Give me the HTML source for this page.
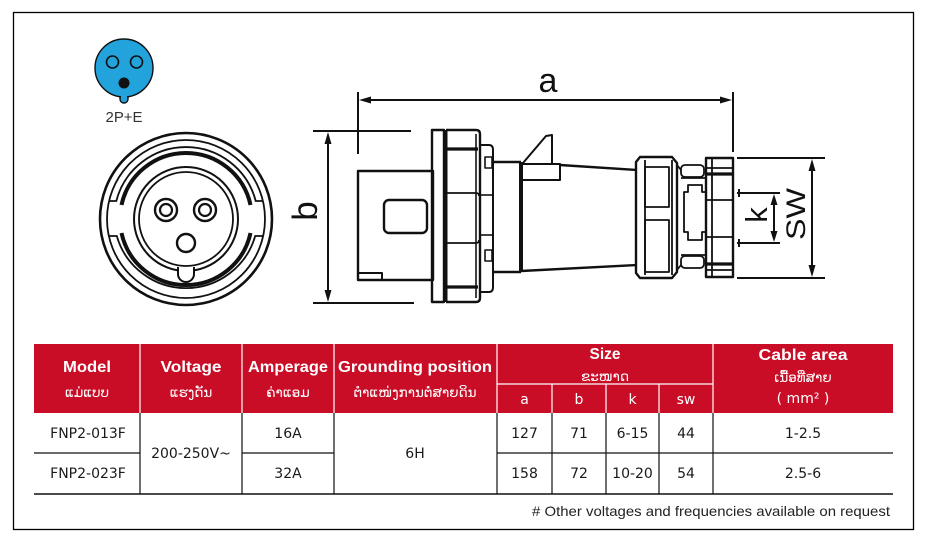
<!DOCTYPE html>
<html>
<head>
<meta charset="utf-8">
<style>
  html,body{margin:0;padding:0;background:#fff;}
  body{width:928px;height:546px;overflow:hidden;position:relative;}
  svg{position:absolute;left:0;top:0;}
  .hb{font-family:"Liberation Sans",Arial,sans-serif;font-weight:bold;font-size:15.5px;fill:#fff;}
  .lao{font-family:"DejaVu Sans","Liberation Sans",sans-serif;font-size:13.5px;fill:#fff;}
  .sub{font-family:"DejaVu Sans","Liberation Sans",sans-serif;font-size:14px;fill:#fff;}
  .td{font-family:"DejaVu Sans","Liberation Sans",sans-serif;font-size:14px;fill:#1a1a1a;}
  .dim{font-family:"Liberation Sans",Arial,sans-serif;fill:#111;}
</style>
</head>
<body>
<svg width="928" height="546" viewBox="0 0 928 546" xmlns="http://www.w3.org/2000/svg">
  <!-- frame -->
  <rect x="13.5" y="12.5" width="900" height="517" fill="#fff" stroke="#000" stroke-width="1.3"/>

  <!-- blue pin icon -->
  <rect x="120" y="90" width="8" height="13" rx="4" fill="#22a3dc" stroke="#111" stroke-width="1.4"/>
  <circle cx="124" cy="68" r="29" fill="#22a3dc" stroke="#111" stroke-width="1.4"/>
  <rect x="121" y="92" width="6" height="8" fill="#22a3dc"/>
  <circle cx="112.5" cy="62" r="6" fill="#22a3dc" stroke="#111" stroke-width="1.6"/>
  <circle cx="136.5" cy="62" r="6" fill="#22a3dc" stroke="#111" stroke-width="1.6"/>
  <circle cx="124" cy="83" r="5.5" fill="#111"/>
  <text x="124" y="122" text-anchor="middle" font-family="Liberation Sans, Arial, sans-serif" font-size="15" fill="#333" textLength="37" lengthAdjust="spacingAndGlyphs">2P+E</text>

  <!-- front view -->
  <g fill="none" stroke="#111">
    <circle cx="186" cy="219" r="86" stroke-width="2.6"/>
    <circle cx="186" cy="219" r="79" stroke-width="1.8"/>
    <path d="M109,201 L116.3,201 A72,72 0 0 1 255.7,201 L263,201" stroke-width="1.8"/>
    <path d="M109,236 L116.8,236 A72,72 0 0 0 255.2,236 L263,236" stroke-width="1.8"/>
    <path d="M121.5,205 A66,66 0 0 1 250.5,205" stroke-width="4"/>
    <path d="M121.5,233 A66,66 0 0 0 250.5,233" stroke-width="4"/>
    <circle cx="186" cy="219" r="52" stroke-width="2"/>
    <circle cx="186" cy="219" r="47" stroke-width="1.8"/>
    <circle cx="166" cy="210" r="11" stroke-width="2.4"/>
    <circle cx="166" cy="210" r="6" stroke-width="2.2"/>
    <circle cx="205" cy="210" r="11" stroke-width="2.4"/>
    <circle cx="205" cy="210" r="6" stroke-width="2.2"/>
    <circle cx="186" cy="243" r="9" stroke-width="2.4"/>
  </g>
  <path d="M178,267 L178,274 A8,8 0 0 0 194,274 L194,267" fill="#fff" stroke="#111" stroke-width="2"/>

  <!-- ===== side view ===== -->
  <g stroke="#111" fill="none" stroke-width="2">
    <line x1="358" y1="92" x2="358" y2="154"/>
    <line x1="733" y1="92" x2="733" y2="152"/>
    <line x1="366" y1="100" x2="725" y2="100"/>
    <line x1="313" y1="131" x2="411" y2="131"/>
    <line x1="313" y1="303" x2="414" y2="303"/>
    <line x1="328" y1="139" x2="328" y2="295"/>
    <line x1="737" y1="158" x2="825" y2="158"/>
    <line x1="737" y1="278" x2="825" y2="278"/>
    <line x1="812" y1="166" x2="812" y2="270"/>
    <line x1="737" y1="193" x2="780" y2="193"/>
    <line x1="737" y1="243" x2="780" y2="243"/>
    <line x1="774" y1="200" x2="774" y2="236"/>
    <line x1="739" y1="189" x2="739" y2="197"/>
    <line x1="739" y1="239" x2="739" y2="247"/>
  </g>
  <g fill="#111">
    <polygon points="359,100 371,96.5 371,103.5"/>
    <polygon points="732,100 720,96.5 720,103.5"/>
    <polygon points="328,132 324.5,144 331.5,144"/>
    <polygon points="328,302 324.5,290 331.5,290"/>
    <polygon points="812,159 808.5,171 815.5,171"/>
    <polygon points="812,277 808.5,265 815.5,265"/>
    <polygon points="774,194 770.5,205 777.5,205"/>
    <polygon points="774,242 770.5,231 777.5,231"/>
  </g>
  <text class="dim" x="548" y="92" text-anchor="middle" font-size="34">a</text>
  <text class="dim" font-size="35" text-anchor="middle" transform="translate(317,211) rotate(-90)">b</text>
  <text class="dim" font-size="31" text-anchor="middle" transform="translate(767,215) rotate(-90)">k</text>
  <text class="dim" font-size="27" text-anchor="middle" textLength="52" lengthAdjust="spacingAndGlyphs" transform="translate(805,214) rotate(-90)">SW</text>

  <g stroke="#111" fill="none" stroke-width="2.4" stroke-linejoin="round">
    <rect x="358" y="171" width="75" height="109"/>
    <rect x="358" y="273" width="24" height="7" stroke-width="2"/>
    <rect x="384" y="200" width="43" height="33" rx="5"/>
    <rect x="432" y="130" width="12" height="172"/>
    <line x1="446" y1="130" x2="446" y2="302" stroke-width="3"/>
    <path d="M446,130 L476,130 Q480,130 480,134 L480,298 Q480,302 476,302 L446,302"/>
    <line x1="446" y1="149" x2="478" y2="149" stroke-width="3.2"/>
    <line x1="446" y1="287" x2="478" y2="287" stroke-width="3.2"/>
    <path d="M446,193 L476,193 Q479,193 479,196" stroke-width="1.8"/>
    <path d="M446,243 L476,243 Q479,243 479,240" stroke-width="1.8"/>
    <line x1="476" y1="134" x2="476" y2="298" stroke-width="1.6"/>
    <path d="M480,145 L489,145 Q493,145 493,150 L493,287 Q493,292 489,292 L480,292" stroke-width="2"/>
    <rect x="485" y="157" width="7" height="11" stroke-width="1.6"/>
    <rect x="485" y="250" width="7" height="11" stroke-width="1.6"/>
    <line x1="480" y1="195" x2="493" y2="195" stroke-width="1.6"/>
    <line x1="480" y1="235" x2="493" y2="235" stroke-width="1.6"/>
    <line x1="493" y1="162" x2="521" y2="162"/>
    <line x1="493" y1="272" x2="521" y2="272"/>
    <line x1="521" y1="162" x2="521" y2="272" stroke-width="4"/>
    <line x1="560" y1="165" x2="637" y2="170"/>
    <line x1="521" y1="271" x2="637" y2="265"/>
    <path d="M523,163 Q534,150 546,136 L552,135 L552,164" stroke-width="2"/>
    <path d="M523,164 L560,164 L560,180 L523,180" stroke-width="2"/>
    <polygon points="640,157 672,157 677,163 677,272 672,278 640,278 636,273 636,162"/>
    <line x1="645" y1="160" x2="645" y2="275" stroke-width="1.8"/>
    <line x1="672" y1="160" x2="672" y2="275" stroke-width="1.8"/>
    <rect x="645" y="167" width="24" height="40" stroke-width="1.8"/>
    <rect x="645" y="220" width="24" height="52" stroke-width="1.8"/>
    <line x1="677" y1="165" x2="681" y2="170" stroke-width="1.8"/>
    <line x1="677" y1="270" x2="681" y2="265" stroke-width="1.8"/>
    <rect x="681" y="165" width="23" height="12" rx="4" stroke-width="1.8"/>
    <rect x="681" y="256" width="23" height="12" rx="4" stroke-width="1.8"/>
    <line x1="681" y1="178" x2="706" y2="178" stroke-width="1.8"/>
    <line x1="681" y1="255" x2="706" y2="255" stroke-width="1.8"/>
    <path d="M688,185 L702,185 L702,192 L706,192 L706,232 L702,232 L702,240 L688,240 L688,232 L684,232 L684,192 L688,192 Z" stroke-width="1.8"/>
    <line x1="677" y1="203" x2="677" y2="208" stroke-width="2"/>
    <line x1="677" y1="214" x2="677" y2="220" stroke-width="2"/>
    <rect x="706" y="158" width="27" height="119"/>
    <line x1="712" y1="158" x2="712" y2="277" stroke-width="1.8"/>
    <line x1="706" y1="168" x2="733" y2="168" stroke-width="1.8"/>
    <line x1="706" y1="174" x2="733" y2="174" stroke-width="3.2"/>
    <line x1="706" y1="200" x2="733" y2="200" stroke-width="1.8"/>
    <line x1="706" y1="237" x2="733" y2="237" stroke-width="1.8"/>
    <line x1="706" y1="264" x2="733" y2="264" stroke-width="3.2"/>
    <line x1="706" y1="270" x2="733" y2="270" stroke-width="1.8"/>
  </g>

  <!-- ===== table ===== -->
  <rect x="34" y="344" width="859" height="69" fill="#c90d27"/>
  <g stroke="#fff" stroke-width="1.2">
    <line x1="140" y1="344" x2="140" y2="413"/>
    <line x1="242" y1="344" x2="242" y2="413"/>
    <line x1="334" y1="344" x2="334" y2="413"/>
    <line x1="497" y1="344" x2="497" y2="413"/>
    <line x1="713" y1="344" x2="713" y2="413"/>
    <line x1="497" y1="384" x2="713" y2="384"/>
    <line x1="552" y1="384" x2="552" y2="413"/>
    <line x1="606" y1="384" x2="606" y2="413"/>
    <line x1="659" y1="384" x2="659" y2="413"/>
  </g>
  <g stroke="#111" stroke-width="1.2">
    <line x1="140" y1="413" x2="140" y2="494"/>
    <line x1="242" y1="413" x2="242" y2="494"/>
    <line x1="334" y1="413" x2="334" y2="494"/>
    <line x1="497" y1="413" x2="497" y2="494"/>
    <line x1="552" y1="413" x2="552" y2="494"/>
    <line x1="606" y1="413" x2="606" y2="494"/>
    <line x1="659" y1="413" x2="659" y2="494"/>
    <line x1="713" y1="413" x2="713" y2="494"/>
    <line x1="34" y1="453" x2="140" y2="453"/>
    <line x1="242" y1="453" x2="334" y2="453"/>
    <line x1="497" y1="453" x2="893" y2="453"/>
    <line x1="34" y1="494" x2="893" y2="494" stroke-width="1.4"/>
  </g>

  <text class="hb" x="87" y="372" text-anchor="middle" textLength="48" lengthAdjust="spacingAndGlyphs">Model</text>
  <text class="hb" x="191" y="372" text-anchor="middle" textLength="61" lengthAdjust="spacingAndGlyphs">Voltage</text>
  <text class="hb" x="288" y="372" text-anchor="middle" textLength="80" lengthAdjust="spacingAndGlyphs">Amperage</text>
  <text class="hb" x="415" y="372" text-anchor="middle" textLength="154" lengthAdjust="spacingAndGlyphs">Grounding position</text>
  <text class="hb" x="605" y="359" text-anchor="middle" textLength="31" lengthAdjust="spacingAndGlyphs">Size</text>
  <text class="hb" x="803" y="360" text-anchor="middle" textLength="89" lengthAdjust="spacingAndGlyphs">Cable area</text>

  <text class="lao" x="87" y="397" text-anchor="middle">ແມ່ແບບ</text>
  <text class="lao" x="191" y="397" text-anchor="middle">ແຮງດັນ</text>
  <text class="lao" x="288" y="397" text-anchor="middle">ຄ່າແອມ</text>
  <text class="lao" x="415" y="397" text-anchor="middle">ຕຳແໜ່ງການຕໍ່ສາຍດິນ</text>
  <text class="lao" x="605" y="381" text-anchor="middle">ຂະໜາດ</text>
  <text class="lao" x="803" y="382" text-anchor="middle">ເນື້ອທີ່ສາຍ</text>
  <text class="sub" x="803" y="403" text-anchor="middle">( mm² )</text>

  <text class="sub" x="524.5" y="404" text-anchor="middle">a</text>
  <text class="sub" x="579" y="404" text-anchor="middle">b</text>
  <text class="sub" x="632.5" y="404" text-anchor="middle">k</text>
  <text class="sub" x="686" y="404" text-anchor="middle">sw</text>

  <text class="td" x="88" y="438" text-anchor="middle">FNP2-013F</text>
  <text class="td" x="88" y="478" text-anchor="middle">FNP2-023F</text>
  <text class="td" x="191" y="458" text-anchor="middle">200-250V~</text>
  <text class="td" x="288" y="438" text-anchor="middle">16A</text>
  <text class="td" x="288" y="478" text-anchor="middle">32A</text>
  <text class="td" x="415" y="458" text-anchor="middle">6H</text>
  <text class="td" x="524.5" y="438" text-anchor="middle">127</text>
  <text class="td" x="579" y="438" text-anchor="middle">71</text>
  <text class="td" x="632.5" y="438" text-anchor="middle">6-15</text>
  <text class="td" x="686" y="438" text-anchor="middle">44</text>
  <text class="td" x="803" y="438" text-anchor="middle">1-2.5</text>
  <text class="td" x="524.5" y="478" text-anchor="middle">158</text>
  <text class="td" x="579" y="478" text-anchor="middle">72</text>
  <text class="td" x="632.5" y="478" text-anchor="middle">10-20</text>
  <text class="td" x="686" y="478" text-anchor="middle">54</text>
  <text class="td" x="803" y="478" text-anchor="middle">2.5-6</text>

  <text x="890" y="516" text-anchor="end" font-family="Liberation Sans, Arial, sans-serif" font-size="14" fill="#222" textLength="358" lengthAdjust="spacingAndGlyphs"># Other voltages and frequencies available on request</text>
</svg>
</body>
</html>
